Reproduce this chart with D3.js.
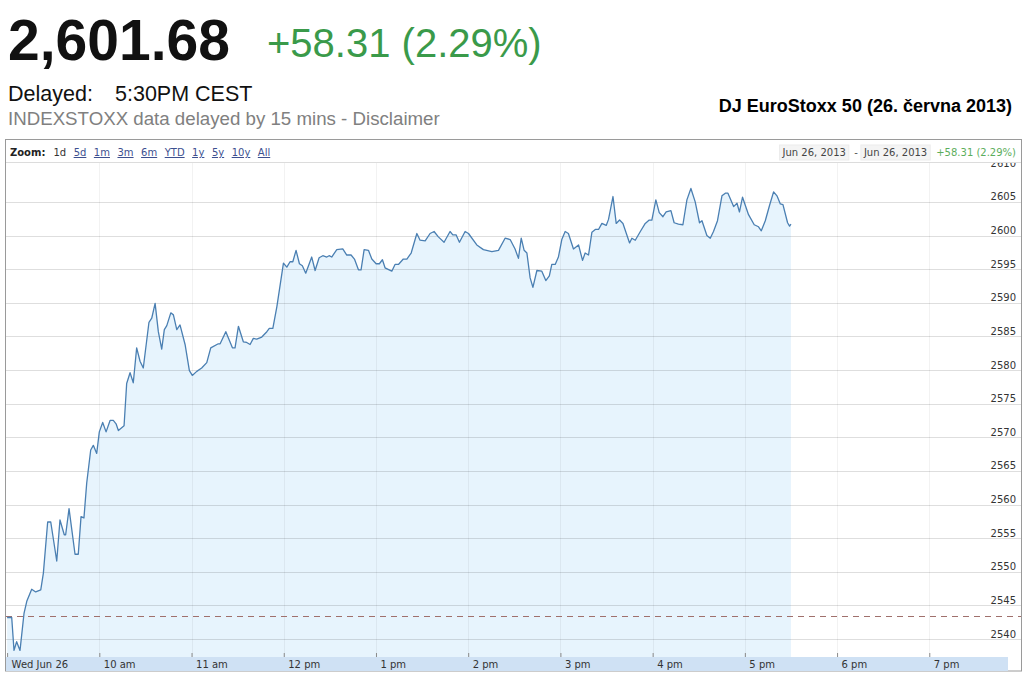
<!DOCTYPE html>
<html><head><meta charset="utf-8">
<script src="https://cdn.jsdelivr.net/npm/d3@7"></script>
<style>body{margin:0;background:#fff;overflow:hidden}</style>
</head><body><svg id="c" width="1024" height="674"></svg>
<script>
// ---- data ----
const minutes = [0,3,4.5,6.2,8.4,11,12.8,16,18.6,21.9,23.6,26.4,28.4,32.3,34.4,37.2,38.1,40.3,44.2,46.3,48.1,50,51.8,54.4,56.1,58.3,60,62.2,64.4,67,69.1,70.9,72.4,76.1,77.8,80,82.1,84.3,86.5,88.6,92.3,94.1,96.3,98.4,100.6,102.3,103.9,106.5,108.2,110.4,112.5,115.8,118.6,120.5,123.4,126.6,129.9,132.5,137.4,138.6,142.3,146.6,148.3,150.5,153.7,155.9,158.1,160.2,162.4,165.7,169,170.6,172.9,175.5,179.8,182,184.1,185.9,188,190.2,192.1,194.3,198.2,200.4,203,205.4,208,209.5,211.2,214.5,218.4,221,223.8,226,228.6,230.3,232.3,235.1,237.3,240.1,242.2,244.2,245.9,250.3,252.4,254.6,257.8,260.1,262.9,266.6,268.7,272,275.2,277.8,280.6,284.3,288.2,290,292.1,294.3,298,300.2,305.6,309.9,315.4,319.7,324,327.3,330.5,332.7,334.5,336.4,338.2,340.3,342.1,344.7,347.9,350.5,352.8,354.4,356.6,358.7,360.9,363.1,365.2,368.5,371.8,374.4,376.1,378.3,380.5,382.7,384.8,387,389.8,391.3,394.2,396.3,398.5,400.7,402.9,405,406.5,408.7,412,415.2,417.8,419.5,422.1,424.3,426.7,428.8,431.9,434,436.8,439.7,442.3,444.9,447.7,450.5,452.1,455.3,457.5,459.6,462.2,465.1,467.3,469,472.7,474.9,476.5,478.5,482.4,486.1,488.9,490.7,493.3,496.1,498.7,500.9,503.1,504.8,507.8,509.1,510];
const values = [2543.2,2543.2,2538.3,2539.6,2538.3,2543.8,2545.6,2547.4,2547.0,2547.3,2549.8,2557.4,2557.4,2551.6,2557.7,2555.5,2555.5,2559.4,2552.6,2552.6,2558.2,2558.0,2563.2,2568.1,2568.8,2567.6,2570.8,2572.2,2570.8,2572.5,2572.5,2572.0,2571.0,2571.7,2578.0,2579.6,2578.1,2583.3,2581.3,2580.3,2587.1,2587.7,2589.9,2585.7,2583.1,2586.0,2586.6,2588.5,2588.2,2586.0,2586.7,2583.8,2579.9,2579.2,2579.8,2580.3,2581.1,2583.3,2583.9,2583.9,2585.7,2583.3,2583.3,2586.5,2584.2,2584.1,2583.8,2584.7,2584.6,2584.9,2585.7,2586.2,2586.2,2589.4,2595.9,2595.3,2596.1,2596.1,2597.8,2595.8,2595.5,2594.4,2596.8,2594.8,2596.7,2597.0,2596.8,2597.0,2596.8,2597.9,2598.0,2597.1,2597.1,2596.5,2594.9,2594.9,2597.9,2597.8,2596.5,2595.8,2595.8,2596.4,2595.2,2594.7,2595.7,2595.7,2596.5,2596.5,2597.4,2600.3,2599.3,2599.2,2600.3,2600.6,2599.8,2599.0,2600.6,2600.1,2600.1,2599.0,2600.6,2600.3,2598.6,2597.9,2597.6,2597.8,2599.6,2599.4,2598.0,2596.6,2599.6,2597.8,2597.4,2593.7,2592.3,2594.8,2594.7,2593.3,2594.0,2595.7,2595.7,2596.8,2599.4,2600.6,2600.3,2598.0,2598.6,2596.3,2597.4,2597.1,2600.5,2600.9,2600.9,2601.8,2601.5,2602.4,2605.8,2601.8,2602.3,2601.8,2600.3,2598.9,2599.6,2599.3,2600.6,2601.8,2602.3,2602.3,2605.3,2603.4,2602.8,2603.5,2603.7,2601.9,2601.7,2601.6,2605.3,2607.0,2605.0,2601.9,2602.2,2600.0,2599.6,2600.6,2602.2,2605.9,2606.3,2606.3,2604.3,2604.8,2603.5,2605.7,2603.1,2601.6,2601.3,2600.7,2602.2,2604.5,2606.5,2605.9,2604.7,2604.6,2601.9,2601.4,2601.68];
const yTicks = [2540,2545,2550,2555,2560,2565,2570,2575,2580,2585,2590,2595,2600,2605,2610];
const xTickHours = [9,10,11,12,13,14,15,16,17,18,19];
const xTickLabels = ["Wed Jun 26","10 am","11 am","12 pm","1 pm","2 pm","3 pm","4 pm","5 pm","6 pm","7 pm"];
const zoomLinks = ["1d","5d","1m","3m","6m","YTD","1y","5y","10y","All"];
const prevClose = 2543.37;
const lastPrice = "2,601.68";
const change = "+58.31 (2.29%)";
const dateFrom = "Jun 26, 2013", dateTo = "Jun 26, 2013";
const title = "DJ EuroStoxx 50 (26. června 2013)";

// ---- layout ----
const svg = d3.select('#c');
const L = 6, R = 1021, T = 162, B = 657;
const x = d3.scaleLinear().domain([0, 660]).range([7.1, 1021.5]);
const y = d3.scaleLinear().domain([2540, 2605]).range([639, 201.9]);
const SANS = "'Liberation Sans', Arial, sans-serif";
const VER = "'DejaVu Sans', Verdana, sans-serif";
const data = d3.zip(minutes, values);

// header
svg.append('text').attr('x', 8).attr('y', 60).attr('font-family', SANS).attr('font-weight', 'bold')
  .attr('font-size', 57).attr('fill', '#111').text(lastPrice);
svg.append('text').attr('x', 267).attr('y', 57).attr('font-family', SANS)
  .attr('font-size', 40).attr('fill', '#3a9a4a').text(change);
svg.append('text').attr('x', 8).attr('y', 101).attr('font-family', SANS).attr('font-size', 21.5)
  .attr('fill', '#111').text("Delayed:");
svg.append('text').attr('x', 115).attr('y', 101).attr('font-family', SANS).attr('font-size', 21.5)
  .attr('fill', '#111').text("5:30PM CEST");
svg.append('text').attr('x', 8).attr('y', 125).attr('font-family', SANS).attr('font-size', 18.7)
  .attr('fill', '#808080').text("INDEXSTOXX data delayed by 15 mins - Disclaimer");
svg.append('text').attr('x', 1012).attr('y', 112).attr('text-anchor', 'end').attr('font-family', SANS)
  .attr('font-weight', 'bold').attr('font-size', 18).attr('fill', '#000').text(title);

// frame
svg.append('rect').attr('x', 5.5).attr('y', 139.5).attr('width', R - 5).attr('height', 671 - 139.5)
  .attr('fill', '#fff').attr('stroke', '#9a9a9a');

// plot
const clip = svg.append('defs').append('clipPath').attr('id', 'pc');
clip.append('rect').attr('x', L).attr('y', T).attr('width', R - L).attr('height', B - T);
const g = svg.append('g').attr('clip-path', 'url(#pc)');

g.append('path').datum(data)
  .attr('d', d3.area().x(d => x(d[0])).y0(B).y1(d => y(d[1])))
  .attr('fill', '#e7f4fd');

g.selectAll('.vg').data(xTickHours.slice(1)).join('line')
  .attr('x1', h => Math.round(x((h - 9) * 60)) + 0.5).attr('x2', h => Math.round(x((h - 9) * 60)) + 0.5)
  .attr('y1', T).attr('y2', B).attr('stroke', 'rgba(0,0,0,0.05)');
g.selectAll('.hg').data(yTicks.filter(v => v < 2610)).join('line')
  .attr('x1', L).attr('x2', R).attr('y1', v => Math.round(y(v)) + 0.5).attr('y2', v => Math.round(y(v)) + 0.5)
  .attr('stroke', 'rgba(0,0,0,0.13)');

g.append('line').attr('x1', L).attr('x2', R).attr('y1', Math.round(y(prevClose)) + 0.5).attr('y2', Math.round(y(prevClose)) + 0.5)
  .attr('stroke', '#a0706c').attr('stroke-dasharray', '6,5').attr('stroke-width', 1.2);

g.append('path').datum(data)
  .attr('d', d3.line().x(d => x(d[0])).y(d => y(d[1])))
  .attr('fill', 'none').attr('stroke', '#4a7fb2').attr('stroke-width', 1.3).attr('stroke-linejoin', 'round');

g.selectAll('.yl').data(yTicks).join('text')
  .attr('x', 1016).attr('y', v => y(v) - 1.5).attr('text-anchor', 'end')
  .attr('font-family', VER).attr('font-size', 10).attr('fill', '#333').text(v => v);

// zoom bar
svg.append('rect').attr('x', 6).attr('y', 140).attr('width', R - 6).attr('height', T - 140).attr('fill', '#fff');
svg.append('line').attr('x1', 6).attr('x2', R).attr('y1', T + 0.5).attr('y2', T + 0.5).attr('stroke', '#dcdcdc');
const zb = svg.append('g').attr('font-family', VER).attr('font-size', 10);
const zl = zb.append('text').attr('x', 10).attr('y', 156).attr('font-weight', 'bold').attr('fill', '#222').text('Zoom:');
let zx = 10 + zl.node().getComputedTextLength() + 8;
zoomLinks.forEach((t, i) => {
  const el = zb.append('text').attr('x', zx).attr('y', 156).attr('fill', i === 0 ? '#333' : '#3d4f8f')
    .attr('text-decoration', i === 0 ? 'none' : 'underline').text(t);
  zx += el.node().getComputedTextLength() + 7.5;
});
// right side of zoom bar
const chg = zb.append('text').attr('x', 1016).attr('y', 156).attr('text-anchor', 'end').attr('fill', '#5cae5c').text(change);
let rx = 1016 - chg.node().getComputedTextLength() - 7;
const d2 = zb.append('text').attr('x', rx - 2).attr('y', 156).attr('text-anchor', 'end').attr('fill', '#444').text(dateTo);
const w2 = d2.node().getComputedTextLength();
zb.insert('rect', 'text').attr('x', rx - w2 - 5).attr('y', 145).attr('width', w2 + 6).attr('height', 15).attr('fill', '#f4f4f4').attr('stroke', '#ececec');
rx = rx - w2 - 8;
zb.append('text').attr('x', rx).attr('y', 156).attr('text-anchor', 'end').attr('fill', '#555').text('-');
rx -= 10;
const d1 = zb.append('text').attr('x', rx - 2).attr('y', 156).attr('text-anchor', 'end').attr('fill', '#444').text(dateFrom);
const w1 = d1.node().getComputedTextLength();
zb.insert('rect', 'text').attr('x', rx - w1 - 5).attr('y', 145).attr('width', w1 + 6).attr('height', 15).attr('fill', '#f4f4f4').attr('stroke', '#ececec');

// x band & axis
svg.append('rect').attr('x', 6).attr('y', B).attr('width', 1008 - 6).attr('height', 671 - B).attr('fill', '#cfe1f4');
const xa = svg.append('g').attr('transform', `translate(0,${B})`)
  .call(d3.axisBottom(x).tickValues(xTickHours.map(h => (h - 9) * 60)).tickFormat((d, i) => xTickLabels[i]).tickSizeInner(-4).tickSizeOuter(0));
xa.select('.domain').remove();
xa.selectAll('.tick line').attr('stroke', '#8a8a8a');
xa.selectAll('.tick text').attr('x', 4).attr('y', 11).attr('dy', 0).attr('text-anchor', 'start')
  .attr('font-family', VER).attr('font-size', 10).attr('fill', '#333');
</script>
</body></html>
